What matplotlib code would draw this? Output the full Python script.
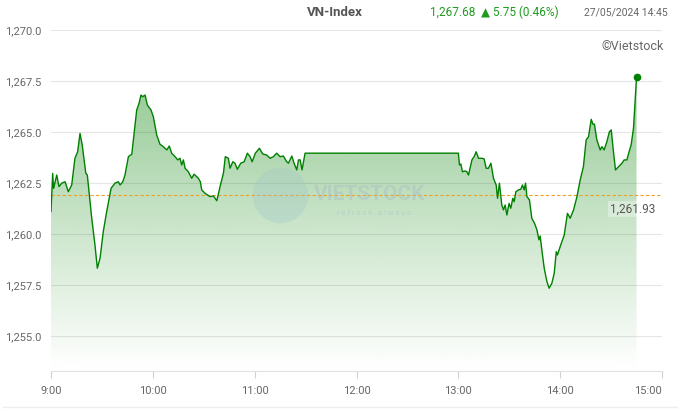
import numpy as np
import matplotlib.pyplot as plt
from matplotlib.colors import to_rgb

plt.rcParams['font.family'] = ['Roboto', 'DejaVu Sans']

# minutes after 9:00 and VN-Index value
minutes = [0, 1, 1.5, 2, 3.4, 4.7, 6.3, 8.3, 10.2, 12.2, 14.1, 15.7, 17.1, 18.4,
           20.5, 21.4, 24.0, 25.9, 27.3, 28.9, 30.8, 32.8, 35.4, 37.7, 39.7, 40.7,
           42.3, 43.6, 45.6, 47.6, 49.1, 50.5, 51.9, 53.0, 54.0, 55.4, 56.8, 58.9,
           60.3, 62.3, 64.2, 66.2, 68.2, 69.7, 71.1, 73.1, 74.7, 76.0, 77.0, 78.0,
           79.0, 80.9, 82.9, 84.3, 86.8, 88.0, 88.8, 90.8, 93.7, 95.7, 97.7, 99.6,
           101.6, 102.7, 104.5, 105.5, 107.1, 108.4, 109.8, 111.8, 113.8, 115.7,
           117.3, 118.5, 120.4, 122.8, 124.8, 127.1, 129.1, 131.0, 133.0, 135.0,
           136.9, 138.9, 139.9, 141.9, 143.2, 144.8, 145.8, 146.8, 147.9, 149.7,
           240.0, 240.7, 241.5, 242.4, 244.0, 245.0, 246.0, 248.0, 249.3, 250.5,
           251.9, 253.9, 255.2, 256.4, 257.7, 259.2, 260.7, 262.3, 263.1, 264.2,
           265.6, 266.6, 267.6, 268.6, 269.9, 270.9, 272.1, 272.9, 273.9, 275.4,
           276.8, 277.8, 278.8, 279.6, 280.4, 281.9, 283.3, 284.9, 286.3, 287.5,
           288.2, 289.2, 290.6, 292.2, 293.5, 295.1, 296.5, 297.7, 298.4, 300.0,
           302.4, 304.3, 305.9, 307.9, 309.9, 311.8, 313.7, 315.3, 316.7, 318.3,
           319.3, 320.2, 321.6, 323.6, 324.6, 325.9, 327.5, 329.0, 330.1, 331.4,
           332.6, 334.4, 336.4, 337.7, 339.3, 340.5, 341.8, 343.2, 345.0]
values = [1261.10, 1262.97, 1262.24, 1262.40, 1262.89, 1262.32, 1262.49, 1262.56,
          1262.07, 1262.40, 1263.71, 1264.03, 1264.93, 1264.36, 1262.98, 1262.89,
          1260.77, 1259.46, 1258.32, 1258.81, 1260.11, 1261.09, 1262.24, 1262.49,
          1262.56, 1262.40, 1262.56, 1262.89, 1263.79, 1263.91, 1265.01, 1266.08,
          1266.41, 1266.81, 1266.73, 1266.81, 1266.32, 1266.08, 1265.75, 1264.85,
          1264.40, 1264.28, 1264.12, 1264.31, 1263.96, 1263.79, 1263.63, 1263.71,
          1263.38, 1263.63, 1263.22, 1263.05, 1262.73, 1262.93, 1262.73, 1262.56,
          1262.16, 1261.99, 1261.83, 1261.86, 1261.63, 1262.32, 1262.98, 1263.79,
          1263.71, 1263.22, 1263.54, 1263.47, 1263.17, 1263.47, 1263.54, 1263.96,
          1263.79, 1263.54, 1263.96, 1264.20, 1263.92, 1263.87, 1263.71, 1263.79,
          1263.96, 1263.79, 1263.82, 1263.54, 1263.47, 1263.82, 1263.47, 1263.14,
          1263.63, 1263.63, 1263.14, 1263.96,
          1263.96, 1263.38, 1263.43, 1263.05, 1263.09, 1263.05, 1262.89, 1263.63,
          1263.79, 1264.03, 1263.71, 1263.71, 1263.68, 1263.22, 1263.22, 1263.47,
          1262.73, 1262.40, 1261.75, 1262.49, 1261.42, 1261.18, 1261.42, 1260.93,
          1261.50, 1261.26, 1261.75, 1261.58, 1262.07, 1262.16, 1262.19, 1262.40,
          1262.16, 1262.49, 1261.83, 1261.67, 1260.77, 1260.52, 1260.20, 1259.71,
          1259.90, 1259.22, 1258.32, 1257.66, 1257.34, 1257.58, 1258.07, 1259.13,
          1258.97, 1259.38, 1259.95, 1261.01, 1260.77, 1261.18, 1261.83, 1262.65,
          1263.30, 1264.61, 1264.77, 1265.62, 1265.38, 1265.38, 1264.61, 1264.12,
          1264.28, 1264.12, 1264.52, 1265.01, 1265.10, 1264.03, 1263.14, 1263.30,
          1263.47, 1263.63, 1263.63, 1264.00, 1264.36, 1265.18, 1267.68]
ref_close = 1261.93
tick_minutes = [0, 60, 120, 180, 240, 300, 360]
tick_labels = ['9:00', '10:00', '11:00', '12:00', '13:00', '14:00', '15:00']
y_ticks = [1255.0, 1257.5, 1260.0, 1262.5, 1265.0, 1267.5, 1270.0]

x = np.array(minutes)
y = np.array(values)
ymin, ymax = 1253.28, 1270.0
green = '#008000'

fig = plt.figure(figsize=(6.78, 4.12), dpi=100)
ax = fig.add_axes([51 / 678, 1 - 371 / 412, 611 / 678, 341 / 412])
ax.set_xlim(0, 360)
ax.set_ylim(ymin, ymax)

# gradient fill under the line
poly = ax.fill_between(x, y, ymin, color='none', lw=0)
grad = np.zeros((256, 1, 4))
grad[:, 0, :3] = to_rgb(green)
grad[:, 0, 3] = np.linspace(0.42, 0.0, 256)
img = ax.imshow(grad, aspect='auto', extent=[x[0], x[-1], ymin, y.max()],
                origin='upper', zorder=1)
img.set_clip_path(poly.get_paths()[0], transform=ax.transData)

ax.plot(x, y, color=green, lw=1.0, zorder=3)
ax.plot(x[-1], y[-1], 'o', color=green, ms=4.5, zorder=4)
ax.axhline(ref_close, color='#f0a020', lw=0.8, ls=(0, (3, 2)), zorder=2)
ax.text(356, ref_close - 0.7, '1,261.93', ha='right', va='center', fontsize=8.5,
        color='#555555', zorder=5,
        bbox=dict(facecolor='white', edgecolor='none', alpha=0.35, pad=1))

# faint watermark
ax.plot(135, 1261.9, 'o', ms=40, color='#9fc4c8', alpha=0.3, mec='none', zorder=2)
ax.text(188, 1261.95, 'VIETSTOCK', ha='center', va='center', fontsize=15,
        fontweight='bold', color='#a8bcc2', alpha=0.45, zorder=2)
ax.text(190, 1261.05, 'r e f r e s h   a l w a y s', ha='center', va='center',
        fontsize=5.5, color='#a8bcc2', alpha=0.45, zorder=2)

ax.set_yticks(y_ticks)
ax.set_yticklabels([f'{v:,.1f}' for v in y_ticks])
ax.set_xticks(tick_minutes)
ax.set_xticklabels(tick_labels)
ax.get_xticklabels()[-1].set_horizontalalignment('right')
ax.grid(axis='y', color='#e6e6e6', lw=0.8)
ax.set_axisbelow(True)
for s in ['top', 'right', 'left']:
    ax.spines[s].set_visible(False)
ax.spines['bottom'].set_color('#e0e0e0')
ax.tick_params(axis='y', length=0, pad=7, labelsize=8, labelcolor='#666666')
ax.tick_params(axis='x', length=5, width=0.8, color='#d0d0d0', pad=6,
               labelsize=8, labelcolor='#666666')

# header texts
fig.text(335 / 678, 1 - 12 / 412, 'VN-Index', ha='center', va='center',
         fontsize=9.5, fontweight='bold', color='#555555')
fig.text(430 / 678, 1 - 12 / 412, '1,267.68', ha='left', va='center',
         fontsize=8.5, color='#1f9a1f')
fig.text(481 / 678, 1 - 12 / 412, '▲ 5.75 (0.46%)', ha='left', va='center',
         fontsize=8.5, color='#1f9a1f')
fig.text(668 / 678, 1 - 12 / 412, '27/05/2024 14:45', ha='right', va='center',
         fontsize=7.5, color='#666666')
fig.text(664 / 678, 1 - 46 / 412, '©Vietstock', ha='right', va='center',
         fontsize=9, color='#666666')
fig.add_artist(plt.Line2D([3 / 678, 1], [1 - 407 / 412] * 2, color='#eeeeee',
                          lw=1, transform=fig.transFigure))

fig.savefig('out.png', dpi=100)
